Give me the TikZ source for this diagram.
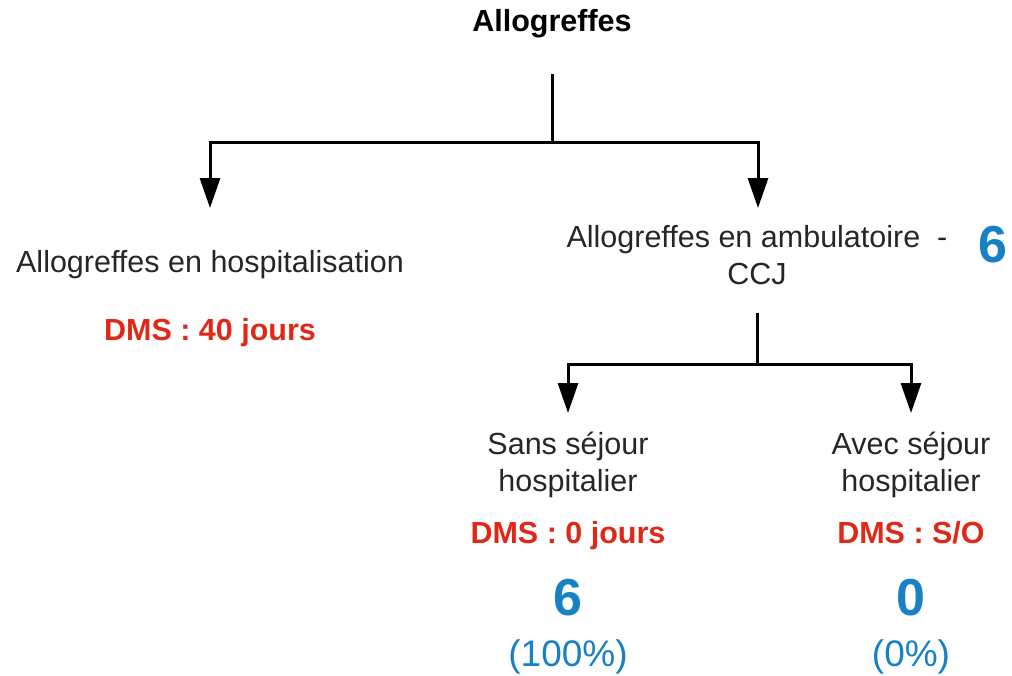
\documentclass[tikz,border=0pt]{standalone}
\usepackage{fontspec}
\setmainfont{Liberation Sans}
\usetikzlibrary{arrows.meta}
\definecolor{dmsred}{RGB}{224,40,24}
\definecolor{numblue}{RGB}{24,128,196}
\tikzset{
  conn/.style={line width=3pt, draw=black},
  arr/.style={conn, -{Triangle[width=20pt,length=30pt]}},
  lbl/.style={anchor=base, inner sep=0pt, align=center, font=\fontsize{30.5}{37}\selectfont, text=black!85},
  dms/.style={anchor=base, inner sep=0pt, font=\fontsize{30.5}{37}\selectfont\bfseries, text=dmsred},
  big/.style={anchor=base, inner sep=0pt, font=\fontsize{52}{60}\selectfont\bfseries, text=numblue},
  pct/.style={anchor=base, inner sep=0pt, font=\fontsize{37}{44}\selectfont, text=numblue},
}
\begin{document}
\begin{tikzpicture}[x=1pt,y=-1pt]
\useasboundingbox (0,0) rectangle (1012,675);
% title
\node[lbl, font=\fontsize{30.5}{37}\selectfont\bfseries, text=black] (title) at (552,31) {Allogreffes};
% first level
\node[lbl] (hosp) at (210,272) {Allogreffes en hospitalisation};
\node[dms] (dmshosp) at (210,340) {DMS : 40 jours};
\node[lbl] (amb) at (757,284) {Allogreffes en ambulatoire\ \ -\\CCJ};
\node[big] (nbamb) at (993,262) {6};
% second level
\node[lbl] (sans) at (568,491) {Sans séjour\\hospitalier};
\node[dms] (dmssans) at (568,543) {DMS : 0 jours};
\node[big] (nbsans) at (568,615) {6};
\node[pct] (pcsans) at (568,666) {(100\%)};
\node[lbl] (avec) at (911,491) {Avec séjour\\hospitalier};
\node[dms] (dmsavec) at (911,543) {DMS : S/O};
\node[big] (nbavec) at (911,615) {0};
\node[pct] (pcavec) at (911,666) {(0\%)};
% connector coordinates
\coordinate (s1) at (552,74);
\coordinate (j1) at (552,142);
\coordinate (t1l) at (210,208);
\coordinate (t1r) at (758,208);
\coordinate (s2) at (757,313);
\coordinate (j2) at (757,364);
\coordinate (t2l) at (568,413);
\coordinate (t2r) at (911,413);
% connectors
\draw[conn] (s1) -- (j1);
\draw[arr] (j1) -| (t1l);
\draw[arr] (j1) -| (t1r);
\draw[conn] (s2) -- (j2);
\draw[arr] (j2) -| (t2l);
\draw[arr] (j2) -| (t2r);
\end{tikzpicture}
\end{document}
